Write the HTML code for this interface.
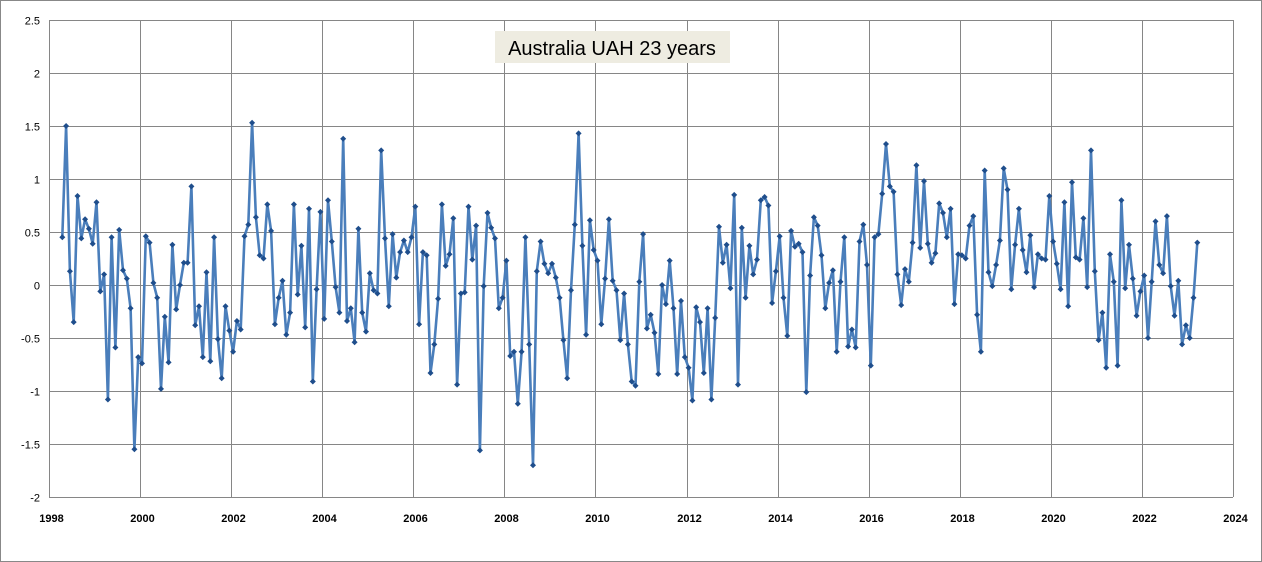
<!DOCTYPE html>
<html><head><meta charset="utf-8"><style>
html,body{margin:0;padding:0;background:#fff}
svg{display:block}
text{font-family:"Liberation Sans",sans-serif}
</style></head><body>
<svg id="s" width="1262" height="562" xmlns="http://www.w3.org/2000/svg">
<rect x="0.5" y="0.5" width="1261" height="561" fill="#fff" stroke="#888" stroke-width="1"/>
<g id="grid" stroke="#868686" stroke-width="1"></g>
<g id="lab" font-size="11" fill="#000"></g>
<rect x="495" y="31" width="235" height="32" fill="#eeece1"/>
<text x="612" y="55" font-size="20" text-anchor="middle" fill="#000">Australia UAH 23 years</text>
<polyline id="ln" fill="none" stroke="#4a7ebb" stroke-width="2.6" stroke-linejoin="round"/>
<g id="mk" fill="#1f4e8c"></g>
</svg>
<script>
var v=[0.45,1.5,0.13,-0.35,0.84,0.44,0.62,0.53,0.39,0.78,-0.06,0.10,-1.08,0.45,-0.59,0.52,0.14,0.06,-0.22,-1.55,-0.68,-0.74,0.46,0.40,0.02,-0.12,-0.98,-0.30,-0.73,0.38,-0.23,0.0,0.21,0.21,0.93,-0.38,-0.20,-0.68,0.12,-0.72,0.45,-0.51,-0.88,-0.20,-0.43,-0.63,-0.34,-0.42,0.46,0.57,
1.53,0.64,0.28,0.25,0.76,0.51,-0.37,-0.12,0.04,-0.47,-0.26,0.76,-0.09,0.37,-0.40,0.72,-0.91,-0.04,0.69,-0.32,0.80,0.41,-0.02,-0.26,1.38,-0.34,-0.22,-0.54,0.53,-0.26,-0.44,0.11,-0.05,-0.08,1.27,0.44,-0.20,0.48,0.07,0.31,0.42,0.31,0.45,0.74,-0.37,0.31,0.28,-0.83,-0.56,-0.13,0.76,0.18,0.29,
0.63,-0.94,-0.08,-0.07,0.74,0.24,0.56,-1.56,-0.01,0.68,0.54,0.44,-0.22,-0.12,0.23,-0.67,-0.63,-1.12,-0.63,0.45,-0.56,-1.70,0.13,0.41,0.20,0.11,0.20,0.07,-0.12,-0.52,-0.88,-0.05,0.57,1.43,0.37,-0.47,0.61,0.33,0.23,-0.37,0.06,0.62,0.04,-0.05,-0.52,-0.08,-0.56,-0.91,-0.95,0.03,0.48,-0.41,
-0.28,-0.45,-0.84,0.0,-0.18,0.23,-0.22,-0.84,-0.15,-0.68,-0.78,-1.09,-0.21,-0.35,-0.83,-0.22,-1.08,-0.31,0.55,0.21,0.38,-0.03,0.85,-0.94,0.54,-0.12,0.37,0.10,0.24,0.80,0.83,0.75,-0.17,0.13,0.46,-0.12,-0.48,0.51,0.36,0.39,0.31,-1.01,0.09,0.64,0.56,0.28,-0.22,0.02,0.14,-0.63,0.03,0.45,-0.58,
-0.42,-0.59,0.41,0.57,0.19,-0.76,0.45,0.48,0.86,1.33,0.93,0.88,0.10,-0.19,0.15,0.03,0.40,1.13,0.35,0.98,0.39,0.21,0.30,0.77,0.68,0.45,0.72,-0.18,0.29,0.28,0.25,0.56,0.65,-0.28,-0.63,1.08,0.12,-0.01,0.19,0.42,1.10,0.90,-0.04,0.38,0.72,0.33,0.12,0.47,-0.02,0.29,0.25,0.24,0.84,
0.41,0.20,-0.04,0.78,-0.20,0.97,0.26,0.24,0.63,-0.02,1.27,0.13,-0.52,-0.26,-0.78,0.29,0.03,-0.76,0.80,-0.03,0.38,0.06,-0.29,-0.06,0.09,-0.50,0.03,0.60,0.19,0.11,0.65,-0.01,-0.29,0.04,-0.56,-0.38,-0.50,-0.12,0.40];
var NS="http://www.w3.org/2000/svg";
function el(p,t,a,txt){var e=document.createElementNS(NS,t);for(var k in a)e.setAttribute(k,a[k]);if(txt!=null)e.textContent=txt;p.appendChild(e);return e;}
var L=49,R=1233,T=20,B=497;
function Y(val){return 285-val*106;}
var g=document.getElementById('grid'),lb=document.getElementById('lab');
for(var i=0;i<=13;i++){var x=L+(R-L)*i/13;x=Math.round(x)+0.5;el(g,'line',{x1:x,y1:T,x2:x,y2:B});
 el(lb,'text',{x:x+2,y:522,'text-anchor':'middle','font-weight':'bold'},String(1998+2*i));}
for(var j=0;j<=9;j++){var val=2.5-0.5*j;var y=Math.round(Y(val))+0.5;el(g,'line',{x1:L,y1:y,x2:R,y2:y});
 el(lb,'text',{x:40,y:y+4,'text-anchor':'end'},String(val));}
var pts=[],mk=document.getElementById('mk');
var x0=62.3,st=(1197.3-62.3)/(v.length-1);
for(var i=0;i<v.length;i++){var x=x0+st*i,y=Y(v[i]);pts.push(x.toFixed(1)+','+y.toFixed(1));
 el(mk,'path',{d:'M'+x.toFixed(1)+' '+(y-3).toFixed(1)+'l3 3l-3 3l-3 -3z'});}
document.getElementById('ln').setAttribute('points',pts.join(' '));
</script>
</body></html>
